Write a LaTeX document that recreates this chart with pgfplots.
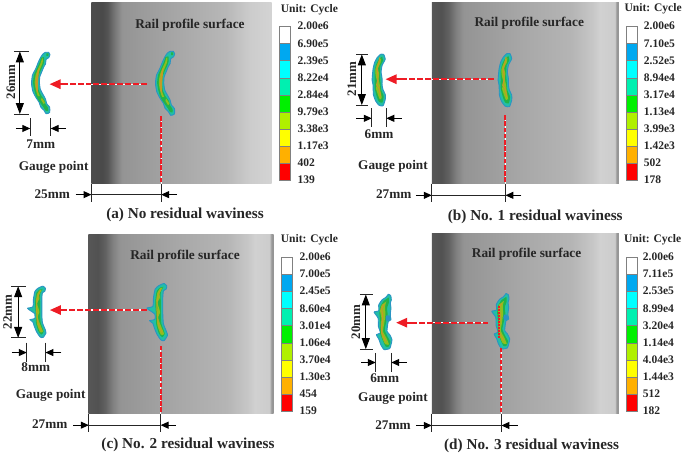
\documentclass[border=0pt]{standalone}
\usepackage{pgfplots}
\usepackage{pgfplotstable}
\usepackage{fontspec}
\setmainfont{Liberation Serif}
\pgfplotsset{compat=1.18}
\usetikzlibrary{arrows.meta}
\definecolor{rim}{HTML}{2A94C4}
\definecolor{teal1}{HTML}{22BFA6}
\definecolor{grn}{HTML}{22B24A}
\definecolor{yg}{HTML}{8FBE1E}
\definecolor{cor}{HTML}{C49A26}
\definecolor{rd}{HTML}{EE1C25}
\definecolor{cbA}{HTML}{00A8F0}
\definecolor{cbB}{HTML}{00FFFF}
\definecolor{cbC}{HTML}{00F0B0}
\definecolor{cbD}{HTML}{00F000}
\definecolor{cbE}{HTML}{B0F000}
\definecolor{cbF}{HTML}{FFFF00}
\definecolor{cbG}{HTML}{FFB000}
\definecolor{cbH}{HTML}{FF0000}
\pgfdeclarehorizontalshading{railA}{100bp}{
 color(0bp)=(black!70); color(25bp)=(black!70); color(28bp)=(black!71); color(29.5bp)=(black!67);
 color(31.5bp)=(black!53); color(33.5bp)=(black!42); color(37.5bp)=(black!40); color(50bp)=(black!34);
 color(62.5bp)=(black!28); color(69bp)=(black!20); color(75bp)=(black!17); color(100bp)=(black!17)}
\pgfdeclarehorizontalshading{railB}{100bp}{
 color(0bp)=(black!66); color(25bp)=(black!66); color(27.5bp)=(black!68); color(29.5bp)=(black!62);
 color(31.5bp)=(black!50); color(33.5bp)=(black!42); color(37.5bp)=(black!40); color(50bp)=(black!34);
 color(62.5bp)=(black!29); color(68bp)=(black!22); color(70bp)=(black!18); color(74bp)=(black!20); color(74.3bp)=(black!40); color(75bp)=(black!42); color(100bp)=(black!42)}
% ---- contour polygons, in 3x crop coordinates
\pgfplotstableread[row sep=\\]{x y\\ 90 33\\ 100 33\\ 104 40\\ 100 50\\ 92 55\\ 90 70\\ 85 78\\ 78 95\\ 72 110\\ 71 130\\ 74 150\\ 82 165\\ 90 180\\ 94 195\\ 103 205\\ 103 222\\ 92 226\\ 85 215\\ 75 205\\ 70 190\\ 60 175\\ 50 155\\ 46 130\\ 49 105\\ 59 85\\ 67 65\\ 74 50\\ 82 38\\ 90 33\\}\aO
\pgfplotstableread[row sep=\\]{x y\\ 85 48\\ 86 62\\ 82 75\\ 75 90\\ 68 108\\ 66 130\\ 68 150\\ 76 168\\ 86 182\\ 90 196\\ 97 206\\ 98 217\\ 90 216\\ 84 206\\ 74 192\\ 62 174\\ 55 152\\ 51 128\\ 54 104\\ 63 84\\ 71 66\\ 76 50\\}\aG
\pgfplotstableread[row sep=\\]{x y\\ 82 52\\ 81 66\\ 72 88\\ 66 108\\ 64 130\\ 66 155\\ 72 170\\ 66 170\\ 60 152\\ 56 128\\ 59 105\\ 66 86\\ 75 66\\ 79 52\\}\aY
\pgfplotstableread[row sep=\\]{x y\\ 70 82\\ 68 105\\ 66 130\\ 66 160\\ 61 150\\ 59 130\\ 62 105\\ 66 88\\}\aC
\pgfplotstableread[row sep=\\]{x y\\ 93 36\\ 99 36\\ 99 44\\ 93 44\\}\aK
\pgfplotstableread[row sep=\\]{x y\\ 78 175\\ 88 190\\ 84 195\\ 76 182\\}\aL
\pgfplotstableread[row sep=\\]{x y\\ 70 25\\ 80 25\\ 85 40\\ 80 50\\ 75 60\\ 72 80\\ 75 100\\ 75 120\\ 78 135\\ 85 150\\ 85 165\\ 78 185\\ 65 183\\ 55 170\\ 48 150\\ 47 120\\ 44 105\\ 47 70\\ 52 50\\ 60 35\\ 70 25\\}\bO
\pgfplotstableread[row sep=\\]{x y\\ 75 32\\ 78 45\\ 70 60\\ 68 85\\ 70 110\\ 72 135\\ 80 155\\ 76 175\\ 65 172\\ 58 155\\ 52 130\\ 52 105\\ 52 75\\ 57 55\\ 65 40\\}\bG
\pgfplotstableread[row sep=\\]{x y\\ 72 38\\ 70 52\\ 62 68\\ 66 85\\ 64 100\\ 68 120\\ 70 140\\ 74 160\\ 68 165\\ 62 150\\ 56 130\\ 60 112\\ 55 90\\ 54 72\\ 60 55\\ 66 42\\}\bY
\pgfplotstableread[row sep=\\]{x y\\ 68 35\\ 65 52\\ 60 70\\ 62 90\\ 62 105\\ 58 120\\ 65 130\\ 70 155\\}\bC
\pgfplotstableread[row sep=\\]{x y\\ 65 30\\ 72 28\\ 80 35\\ 78 45\\ 70 50\\ 68 70\\ 68 100\\ 68 120\\ 70 150\\ 80 175\\ 82 185\\ 72 200\\ 62 198\\ 50 180\\ 42 160\\ 38 148\\ 28 140\\ 40 138\\ 45 135\\ 44 120\\ 30 110\\ 20 102\\ 38 97\\ 40 70\\ 45 45\\ 55 35\\ 65 30\\}\cO
\pgfplotstableread[row sep=\\]{x y\\ 70 38\\ 62 55\\ 62 85\\ 62 120\\ 64 150\\ 74 180\\ 66 190\\ 56 178\\ 48 150\\ 48 125\\ 46 100\\ 46 75\\ 50 50\\ 60 40\\}\cG
\pgfplotstableread[row sep=\\]{x y\\ 68 40\\ 58 58\\ 60 70\\ 52 85\\ 56 100\\ 60 115\\ 54 130\\ 60 150\\ 72 180\\ 62 182\\ 52 155\\ 50 130\\ 52 100\\ 48 80\\ 52 55\\ 60 42\\}\cY
\pgfplotstableread[row sep=\\]{x y\\ 62 45\\ 55 62\\ 52 75\\ 50 95\\ 52 130\\ 56 155\\ 66 176\\}\cC
\pgfplotstableread[row sep=\\]{x y\\ 68 28\\ 75 32\\ 77 45\\ 74 55\\ 76 70\\ 74 85\\ 74 95\\ 76 105\\ 68 110\\ 66 120\\ 64 140\\ 72 150\\ 79 165\\ 76 180\\ 72 192\\ 55 195\\ 45 180\\ 40 165\\ 32 150\\ 44 145\\ 38 125\\ 37 100\\ 25 82\\ 39 78\\ 39 60\\ 49 45\\ 60 38\\ 68 28\\}\dO
\pgfplotstableread[row sep=\\]{x y\\ 69 38\\ 70 52\\ 64 70\\ 66 90\\ 62 110\\ 57 135\\ 65 155\\ 74 172\\ 69 186\\ 60 186\\ 50 165\\ 43 145\\ 44 115\\ 41 85\\ 44 65\\ 54 48\\}\dG
\pgfplotstableread[row sep=\\]{x y\\ 62 50\\ 58 65\\ 59 90\\ 55 120\\ 52 140\\ 62 160\\ 70 180\\ 58 178\\ 48 155\\ 45 130\\ 47 100\\ 43 78\\ 48 60\\}\dY
\pgfplotstableread[row sep=\\]{x y\\ 55 58\\ 48 72\\ 51 95\\ 48 125\\ 48 145\\ 60 170\\}\dC
\pgfplotstableread[row sep=\\]{x y\\ 62 92\\ 71 92\\ 74 100\\ 71 108\\ 62 108\\ 60 100\\}\dH
\newcommand\po[6][]{\addplot[draw=none,fill=#3,smooth,tension=.35,#1] table[x expr={#4+#6*\thisrow{x}/3},y expr={#5+#6*\thisrow{y}/3}]{#2};}
\newcommand\pl[6][]{\addplot[draw=#3,no marks,smooth,tension=.35,line width=1.1pt,#1] table[x expr={#4+#6*\thisrow{x}/3},y expr={#5+#6*\thisrow{y}/3}]{#2};}
\newcommand\ou[4]{\addplot[draw=rim,fill=teal1,line width=.9pt,line join=round,smooth,tension=.35] table[x expr={#2+#4*\thisrow{x}/3},y expr={#3+#4*\thisrow{y}/3}]{#1};}
\newcommand\blobA[3]{\ou{\aO}{#1}{#2}{#3}\po{\aG}{grn}{#1}{#2}{#3}\po{\aK}{grn}{#1}{#2}{#3}\po{\aY}{yg}{#1}{#2}{#3}\po{\aL}{yg}{#1}{#2}{#3}\po{\aC}{cor}{#1}{#2}{#3}}
\newcommand\blobB[3]{\ou{\bO}{#1}{#2}{#3}\po{\bG}{grn}{#1}{#2}{#3}\po{\bY}{yg}{#1}{#2}{#3}\pl{\bC}{cor}{#1}{#2}{#3}}
\newcommand\blobC[3]{\ou{\cO}{#1}{#2}{#3}\po{\cG}{grn}{#1}{#2}{#3}\po{\cY}{yg}{#1}{#2}{#3}\pl{\cC}{cor!70!yg}{#1}{#2}{#3}}
\newcommand\blobD[3]{\ou{\dO}{#1}{#2}{#3}\po{\dG}{grn}{#1}{#2}{#3}\po{\dH}{rim}{#1}{#2}{#3}\po{\dY}{yg}{#1}{#2}{#3}\pl{\dC}{cor}{#1}{#2}{#3}}
\newcommand\rail[5]{\addplot[draw=none,shade,shading=#5] coordinates {(#1,#3)(#2,#3)(#2,#4)(#1,#4)} -- cycle;}
\newcommand\seg[5]{\addplot[draw=black!50,line width=.6pt,fill=#5] coordinates {(#1,#3)(#2,#3)(#2,#4)(#1,#4)} -- cycle;}
\newcommand\cbar[3]{%
 \seg{#1}{#2}{#3+0*17.2}{#3+1*17.2}{white}\seg{#1}{#2}{#3+1*17.2}{#3+2*17.2}{cbA}\seg{#1}{#2}{#3+2*17.2}{#3+3*17.2}{cbB}%
 \seg{#1}{#2}{#3+3*17.2}{#3+4*17.2}{cbC}\seg{#1}{#2}{#3+4*17.2}{#3+5*17.2}{cbD}\seg{#1}{#2}{#3+5*17.2}{#3+6*17.2}{cbE}%
 \seg{#1}{#2}{#3+6*17.2}{#3+7*17.2}{cbF}\seg{#1}{#2}{#3+7*17.2}{#3+8*17.2}{cbG}\seg{#1}{#2}{#3+8*17.2}{#3+9*17.2}{cbH}}
\tikzset{lab/.style={font=\fontsize{11.6}{12}\selectfont\bfseries,text=black!85,inner sep=0pt,anchor=west}}
\pgfplotsset{cbl/.style={draw=none,no marks,nodes near coords,point meta=explicit symbolic,
  every node near coord/.style={lab}}}
\newcommand\rlab[5]{\node[font=\fontsize{13.4}{15}\selectfont\bfseries,text=black!85] at (axis cs:#1,#2) {Rail profile surface};
 \node[font=\fontsize{15.3}{16}\selectfont\bfseries,text=black!85] at (axis cs:#3,#4) {#5};}
\newcommand\T[3]{\node[font=\fontsize{13.3}{14}\selectfont\bfseries,text=black!85] at (axis cs:#1,#2) {#3};}
\newcommand\TR[3]{\node[rotate=90,font=\fontsize{13}{14}\selectfont\bfseries,text=black!85] at (axis cs:#1,#2) {#3};}
\newcommand\ky[2]{\addplot[black!85,line width=1pt,no marks] coordinates {#1};}
\newcommand\dimV[5]{\addplot[black,line width=1pt,no marks,{Triangle[length=11pt,width=8pt]}-{Triangle[length=11pt,width=8pt]}] coordinates {(#1,#2)(#1,#3)};
 \ky{(#4,#2)(#5,#2)}{} \ky{(#4,#3)(#5,#3)}{}}
\newcommand\dimH[7]{\addplot[black,line width=1pt,no marks,-{Triangle[length=8pt,width=7pt]}] coordinates {(#4,#1)(#2,#1)};
 \addplot[black,line width=1pt,no marks,-{Triangle[length=8pt,width=7pt]}] coordinates {(#5,#1)(#3,#1)};
 \ky{(#2,#6)(#2,#7)}{} \ky{(#3,#6)(#3,#7)}{}}
\newcommand\dimB[7]{\dimH{#1}{#2}{#3}{#4}{#5}{#6}{#7}\ky{(#2,#1)(#3,#1)}{}}
\newcommand\strip[5]{\addplot[draw=none,fill=#5] coordinates {({#1},{#3})({#2},{#3})({#2},{#4})({#1},{#4})} -- cycle;}
% y, tip x, start x, rail-left x, last dash index
\newcommand\rArrow[5]{\strip{#4}{#3}{#1-.6}{#1+.6}{white}
 \pgfplotsinvokeforeach{0,...,#5}{\strip{#3-##1*8-6}{#3-##1*8}{#1-1}{#1+1}{rd}}
 \addplot[draw=none,fill=rd] coordinates {({#2},{#1})({#2+11},{#1-5})({#2+11},{#1+5})} -- cycle;
 \strip{#2+9}{#3-#5*8-6}{#1-1}{#1+1}{rd}}
\newcommand\rDash[3]{\pgfplotsinvokeforeach{0,...,10}{\strip{#1-1}{#1+1}{#2+##1*(#3-#2)/11}{#2+(##1+.75)*(#3-#2)/11}{rd}}}
\newcommand\rDot[3]{\strip{#1-.6}{#1+.6}{#2}{#3}{white}\rDash{#1}{#2}{#3}}
\begin{document}
\begin{tikzpicture}
\begin{axis}[width=685pt,height=455pt,scale only axis,xmin=0,xmax=685,ymin=0,ymax=455,y dir=reverse,
 axis lines=none,clip=false,enlargelimits=false,every axis plot/.append style={forget plot}]
% ===== (a)
\rail{91}{272}{2}{184}{railA}
\blobA{140}{40}{1}
\blobA{16}{41.4}{.96}
\rArrow{84}{49}{147}{91}{10}
\rDot{161}{116}{184}
\dimV{19}{51}{114}{13}{28}
\dimH{128.5}{29.5}{50}{15}{65}{118}{136}
\dimB{195}{91}{161}{75}{177}{184}{202}
\cbar{280}{291}{26}
\addplot[cbl] coordinates {(298,25.7)[2.00e6](298,43)[6.90e5](298,60)[2.39e5](298,77.2)[8.22e4](298,94.4)[2.84e4](298,111.6)[9.79e3](298,128.8)[3.38e3](298,146)[1.17e3](298,163)[402](298,180)[139]};
\node[font=\fontsize{11.6}{12}\selectfont\bfseries,text=black!85] at (axis cs:310,9) {Unit: Cycle};
\rlab{190}{25}{185}{215}{(a) No residual waviness}
\TR{10}{82}{26mm} \T{40}{144}{7mm} \T{53}{168}{Gauge point} \T{51.5}{194.5}{25mm}
% ===== (b)
\rail{433}{621}{1.5}{184}{railB}
\blobB{485}{45}{1}
\blobB{358.8}{45.9}{.97}
\rArrow{79}{386.7}{496}{433}{11}
\rDot{507}{115}{184}
\dimV{362.7}{54}{105}{357}{369}
\dimH{118.3}{372.7}{387.3}{357}{402.7}{108}{127}
\dimB{195.7}{433}{507}{417}{523}{184}{202}
\cbar{628}{640}{26}
\addplot[cbl] coordinates {(646,25.7)[2.00e6](646,43)[7.10e5](646,60)[2.52e5](646,77.2)[8.94e4](646,94.4)[3.17e4](646,111.6)[1.13e4](646,128.8)[3.99e3](646,146)[1.42e3](646,163)[502](646,180)[178]};
\node[font=\fontsize{11.6}{12}\selectfont\bfseries,text=black!85] at (axis cs:655.5,8) {Unit: Cycle};
\rlab{531}{22.7}{537}{217}{(b) No. 1 residual waviness}
\TR{352.7}{79}{21mm} \T{380}{134}{6mm} \T{394}{167}{Gauge point} \T{394.7}{194.5}{27mm}
% ===== (c)
\rail{88}{274}{235}{415}{railB}
\blobC{140}{275}{1}
\blobC{20.7}{278.6}{.9}
\rArrow{311}{49.3}{146.7}{88}{10}
\rDot{160.5}{347}{415}
\dimV{17.3}{287}{339}{10}{25}
\dimH{353.7}{26}{44.7}{10.7}{60.7}{343.7}{363}
\dimB{426.7}{88.3}{160.5}{72.7}{175.7}{415}{433.7}
\cbar{282}{293}{258}
\addplot[cbl] coordinates {(300,257.5)[2.00e6](300,275)[7.00e5](300,292)[2.45e5](300,309.2)[8.60e4](300,326.4)[3.01e4](300,343.6)[1.06e4](300,360.8)[3.70e4](300,378)[1.30e3](300,395)[454](300,412)[159]};
\node[font=\fontsize{11.6}{12}\selectfont\bfseries,text=black!85] at (axis cs:310,240) {Unit: Cycle};
\rlab{185}{257}{188}{446}{(c) No. 2 residual waviness}
\TR{6.7}{313}{22mm} \T{35}{368.7}{8mm} \T{50}{397}{Gauge point} \T{49}{426}{27mm}
% ===== (d)
\rail{433}{621}{234}{415}{railB}
\blobD{485}{285}{1}
\blobD{366.7}{285.7}{1}
\rDash{500.3}{307}{340}
\rArrow{323.7}{397.3}{490}{433}{9}
\rDot{503}{348.7}{415}
\dimV{366.7}{295.3}{350.3}{360.7}{374.3}
\dimH{363.7}{376.7}{392.3}{362}{408}{354}{373.3}
\dimB{427}{433}{503}{417.3}{519.3}{415}{434}
\cbar{628}{640}{258}
\addplot[cbl] coordinates {(645,257.5)[2.00e6](645,275)[7.11e5](645,292)[2.53e5](645,309.2)[8.99e4](645,326.4)[3.20e4](645,343.6)[1.14e4](645,360.8)[4.04e3](645,378)[1.44e3](645,395)[512](645,412)[182]};
\node[font=\fontsize{11.6}{12}\selectfont\bfseries,text=black!85] at (axis cs:655,240) {Unit: Cycle};
\rlab{528.3}{255.3}{533.3}{447}{(d) No. 3 residual waviness}
\TR{356.7}{323}{20mm} \T{385.7}{379}{6mm} \T{394}{400}{Gauge point} \T{394}{426.7}{27mm}
\end{axis}
\end{tikzpicture}
\end{document}
